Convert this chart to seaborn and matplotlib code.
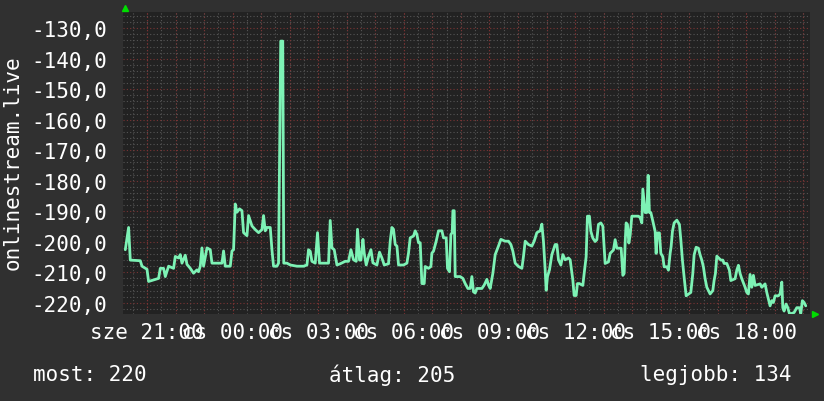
import pandas as pd
import matplotlib
matplotlib.use('Agg')
import matplotlib.pyplot as plt
import seaborn as sns
from matplotlib.ticker import MultipleLocator

# ora 21:00 (szerda) ota eltelt orak
hours = [
    -0.76, -0.644, -0.585, -0.235, -0.175, 0.0, 0.056, 0.406, 0.466, 0.581,
    0.641, 0.757, 0.932, 0.991, 1.107, 1.166, 1.226, 1.341, 1.401, 1.517,
    1.632, 1.751, 1.807, 1.867, 1.926, 1.982, 2.102, 2.217, 2.277, 2.627,
    2.683, 2.742, 2.918, 2.977, 3.033, 3.093, 3.152, 3.243, 3.327, 3.384,
    3.503, 3.559, 3.678, 3.793, 3.909, 4.028, 4.084, 4.144, 4.203, 4.319,
    4.378, 4.434, 4.553, 4.609, 4.644, 4.686, 4.757, 4.792, 4.904, 5.019,
    5.254, 5.485, 5.604, 5.660, 5.720, 5.779, 5.895, 5.975, 6.045, 6.361,
    6.420, 6.480, 6.560, 6.655, 6.770, 6.946, 7.061, 7.145, 7.236, 7.331,
    7.376, 7.446, 7.496, 7.566, 7.611, 7.681, 7.762, 7.846, 7.916, 8.056,
    8.147, 8.231, 8.312, 8.462, 8.522, 8.581, 8.637, 8.697, 8.757, 8.813,
    8.988, 9.107, 9.163, 9.222, 9.338, 9.398, 9.457, 9.513, 9.573, 9.632,
    9.713, 9.748, 9.863, 9.947, 9.982, 10.038, 10.133, 10.214, 10.333, 10.389,
    10.483, 10.529, 10.599, 10.648, 10.694, 10.718, 10.764, 10.799, 10.974, 11.068,
    11.149, 11.243, 11.324, 11.383, 11.440, 11.499, 11.559, 11.734, 11.814, 11.909,
    11.965, 12.025, 12.119, 12.200, 12.315, 12.399, 12.550, 12.666, 12.750, 12.820,
    12.900, 13.016, 13.135, 13.191, 13.251, 13.366, 13.485, 13.566, 13.660, 13.776,
    13.835, 13.891, 13.951, 13.986, 14.032, 14.102, 14.186, 14.301, 14.361, 14.417,
    14.501, 14.571, 14.652, 14.767, 14.827, 14.921, 14.966, 15.036, 15.082, 15.152,
    15.271, 15.317, 15.387, 15.432, 15.502, 15.552, 15.622, 15.702, 15.762, 15.818,
    15.902, 15.972, 16.052, 16.168, 16.228, 16.343, 16.403, 16.462, 16.613, 16.673,
    16.718, 16.753, 16.788, 16.834, 16.883, 16.929, 16.988, 17.219, 17.279, 17.338,
    17.373, 17.419, 17.454, 17.513, 17.559, 17.604, 17.653, 17.723, 17.804, 17.839,
    17.884, 17.954, 18.004, 18.074, 18.119, 18.214, 18.270, 18.329, 18.364, 18.410,
    18.470, 18.564, 18.655, 18.704, 18.760, 18.820, 18.890, 19.054, 19.124, 19.170,
    19.240, 19.320, 19.380, 19.439, 19.495, 19.555, 19.615, 19.730, 19.825, 19.870,
    19.916, 19.965, 20.105, 20.175, 20.221, 20.315, 20.406, 20.455, 20.606, 20.665,
    20.721, 20.781, 20.840, 20.956, 21.015, 21.071, 21.131, 21.191, 21.247, 21.306,
    21.481, 21.541, 21.656, 21.716, 21.772, 21.831, 21.891, 21.947, 22.007, 22.122,
    22.182, 22.242, 22.277, 22.322, 22.392, 22.452, 22.508, 22.592, 22.672, 22.767,
    22.858, 22.907, 22.963, 23.023, 23.082,
]

values = [
    -202.6, -195.3, -206.0, -206.2, -208.0, -209.0, -213.0, -212.0, -208.7, -208.7,
    -211.4, -208.0, -208.7, -204.8, -205.3, -204.2, -207.0, -204.4, -207.4, -208.7,
    -210.3, -209.2, -209.8, -208.0, -202.0, -208.0, -202.0, -202.6, -207.0, -207.0,
    -203.0, -208.0, -208.0, -203.0, -202.6, -187.6, -190.3, -189.2, -189.8, -197.0,
    -198.0, -191.4, -194.8, -196.0, -197.0, -196.0, -191.4, -196.4, -195.3, -195.3,
    -202.6, -208.0, -208.0, -207.0, -173.0, -134.2, -134.2, -207.0, -207.0, -207.6,
    -208.0, -208.0, -207.6, -202.6, -203.1, -206.4, -207.0, -197.0, -207.0, -207.0,
    -193.0, -202.0, -202.6, -207.6, -207.2, -206.4, -206.4, -202.6, -205.9, -206.4,
    -195.9, -206.0, -206.0, -199.2, -203.7, -207.6, -204.8, -202.6, -206.9, -207.6,
    -203.4, -205.3, -207.6, -207.2, -199.8, -195.3, -195.9, -200.9, -201.4, -207.6,
    -207.6, -207.0, -203.7, -198.7, -198.1, -196.4, -197.6, -200.3, -200.3, -213.7,
    -213.7, -208.1, -208.7, -208.1, -203.7, -203.1, -199.8, -196.4, -196.4, -198.7,
    -198.7, -208.7, -209.8, -197.6, -197.0, -189.8, -189.8, -211.4, -211.4, -212.0,
    -213.7, -215.3, -215.3, -211.4, -216.4, -216.8, -215.3, -215.3, -214.2, -212.3,
    -214.2, -215.3, -210.3, -204.2, -201.4, -199.2, -199.8, -199.8, -200.9, -203.1,
    -207.0, -208.1, -208.7, -204.8, -199.8, -200.9, -201.4, -199.8, -197.0, -196.4,
    -194.2, -199.8, -209.2, -215.9, -211.4, -209.2, -204.2, -200.9, -200.9, -205.9,
    -207.6, -204.2, -205.9, -205.3, -205.9, -212.6, -217.6, -217.6, -213.7, -213.7,
    -214.3, -210.4, -204.9, -191.6, -191.6, -196.6, -198.8, -199.9, -199.3, -194.3,
    -193.8, -194.9, -207.1, -206.6, -203.8, -202.7, -199.3, -202.1, -202.1, -211.0,
    -210.4, -200.4, -193.8, -194.3, -200.4, -197.8, -191.6, -191.6, -192.1, -193.8,
    -182.7, -187.1, -190.4, -190.4, -178.2, -190.4, -190.4, -193.2, -196.6, -203.8,
    -197.1, -197.1, -203.8, -204.9, -208.2, -208.2, -209.3, -203.8, -201.6, -196.6,
    -193.8, -192.9, -194.3, -199.3, -206.0, -211.6, -217.7, -216.6, -210.4, -204.3,
    -201.8, -202.1, -204.3, -206.0, -208.2, -212.1, -214.9, -217.1, -216.0, -212.7,
    -210.4, -204.7, -206.0, -206.0, -207.1, -207.1, -209.3, -212.7, -212.1, -209.3,
    -207.7, -210.4, -212.1, -214.9, -216.6, -217.1, -210.7, -214.9, -211.0, -214.3,
    -213.8, -214.9, -213.8, -216.6, -218.8, -221.0, -219.3, -219.9, -217.7, -217.7,
    -217.1, -213.2, -221.6, -222.7, -220.4, -221.6, -223.5, -223.5, -223.2, -221.6,
    -221.6, -223.5, -219.3, -219.9, -221.0,
]

x_tick_hours = [0, 3, 6, 9, 12, 15, 18, 21]
x_tick_labels = ['sze 21:00', 'cs 00:00', 'cs 03:00', 'cs 06:00',
                 'cs 09:00', 'cs 12:00', 'cs 15:00', 'cs 18:00']
y_ticks = [-130, -140, -150, -160, -170, -180, -190, -200, -210, -220]
y_label = 'onlinestream.live'
legend_items = ['most: 220', 'átlag: 205', 'legjobb: 134']

BG = '#303030'
PLOT_BG = '#222222'
LINE = '#7df2b5'
MAJOR = '#7a3434'
MINOR = '#555555'
MONO = 'DejaVu Sans Mono'

sns.set_theme(style='dark')
plt.rcParams['font.family'] = [MONO, 'DejaVu Sans']


def main():
    df = pd.DataFrame({'ora': hours, 'ertek': values})

    fig = plt.figure(figsize=(8.24, 4.02), dpi=100, facecolor=BG)
    ax = fig.add_axes([123.3 / 824, 87 / 402, 686.7 / 824, 302 / 402])
    ax.set_facecolor(PLOT_BG)

    sns.lineplot(data=df, x='ora', y='ertek', ax=ax, color=LINE,
                 linewidth=2.0, sort=False, estimator=None, zorder=5)

    ax.set_xlim(-0.83, 23.23)
    ax.set_ylim(-223.67, -124.66)

    # racsok
    ax.xaxis.set_major_locator(MultipleLocator(1))
    ax.xaxis.set_minor_locator(MultipleLocator(0.5))
    ax.yaxis.set_major_locator(MultipleLocator(10))
    ax.yaxis.set_minor_locator(MultipleLocator(2))
    ax.grid(which='minor', color=MINOR, linestyle=(0, (1, 2)), linewidth=0.8)
    ax.grid(which='major', color=MAJOR, linestyle=(0, (1, 2)), linewidth=0.8)
    ax.set_axisbelow(True)

    ax.set_xticks(x_tick_hours, minor=False)
    ax.set_xticklabels(x_tick_labels)
    # oranként piros vonalak, de felirat csak 3 orankent
    for h in range(0, 24):
        ax.axvline(h, color=MAJOR, linestyle=(0, (1, 2)), linewidth=0.8, zorder=1)

    ax.set_yticks(y_ticks)
    ax.set_yticklabels([f'{v:.1f}'.replace('.', ',') for v in y_ticks])

    ax.tick_params(axis='both', which='both', length=0, colors='white',
                   labelsize=15)
    ax.tick_params(axis='y', pad=12)
    ax.tick_params(axis='x', pad=6)
    for lab in ax.get_xticklabels() + ax.get_yticklabels():
        lab.set_fontfamily(MONO)

    for s in ax.spines.values():
        s.set_visible(False)

    ax.set_xlabel('')
    ax.set_ylabel('')
    fig.text(13 / 824, 0.595, y_label, rotation=90, ha='center', va='center',
             color='white', fontsize=15, family=MONO)

    # kis zold nyilak a tengelyek vegen
    ax.plot([0.003], [1.014], marker='^', color='#00dd00', ms=5,
            transform=ax.transAxes, clip_on=False)
    ax.plot([1.008], [0.0], marker='>', color='#00dd00', ms=5,
            transform=ax.transAxes, clip_on=False)

    fig.text(33 / 824, 0.067, legend_items[0], ha='left', va='center',
             color='white', fontsize=15, family=MONO)
    fig.text(392 / 824, 0.067, legend_items[1], ha='center', va='center',
             color='white', fontsize=15, family=MONO)
    fig.text(792 / 824, 0.067, legend_items[2], ha='right', va='center',
             color='white', fontsize=15, family=MONO)

    fig.savefig('out.png', dpi=100, facecolor=BG)


if __name__ == '__main__':
    main()
